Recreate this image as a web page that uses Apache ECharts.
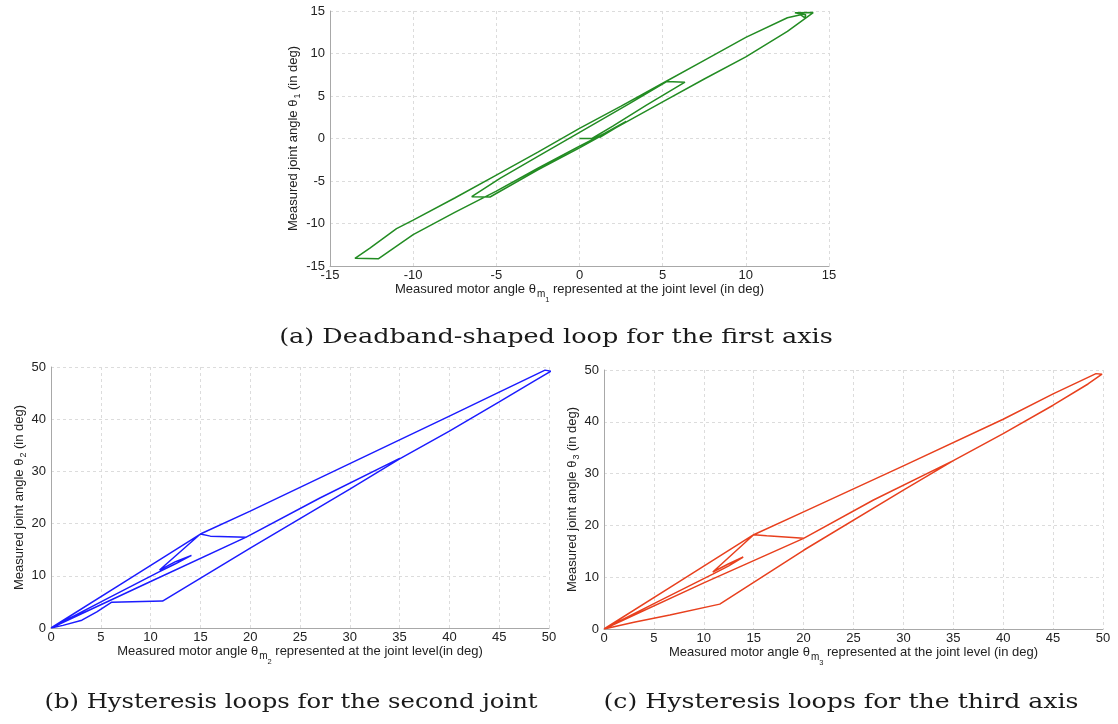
<!DOCTYPE html>
<html>
<head>
<meta charset="utf-8">
<script src="https://cdn.jsdelivr.net/npm/echarts@6/dist/echarts.min.js"></script>
<style>
html,body{margin:0;padding:0;background:#fff;}
#c{width:1118px;height:724px;}
</style>
</head>
<body>
<div id="c"></div>
<script>
// ---- data ----
// (a) first axis: motor angle vs joint angle (deg)
const loopA = [
  [0,0],[0.75,0],[2.0,1.45],[4.0,3.9],[6.34,6.62],[5.24,6.7],[3.0,4.1],[0.03,0.75],[-2.5,-2.1],
  [-4.78,-4.7],[-6.48,-6.85],[-5.38,-6.88],[-2.5,-3.7],[0,-1.1],[2.5,1.6],[5,4.3],[7.5,7.0],
  [10,9.6],[12.5,12.6],[14.05,14.82],[12.95,14.8],[13.6,14.55],[13.55,14.2],[13.3,14.55],
  [12.5,14.2],[10,11.9],[7.5,9.2],[5,6.5],[2.5,3.8],[0,1.2],[-2.5,-1.6],[-5,-4.3],[-7.5,-7.0],
  [-10,-9.6],[-11,-10.6],[-12.6,-12.9],[-13.5,-14.1],[-12.1,-14.15],[-10,-11.3],[-7.5,-8.7],
  [-5,-6.2],[-2.5,-3.5],[0,-0.9],[1.5,0.6],[2.8,2.0],[1.2,0.1]
];
// (b) second joint
const loopB = [
  [0,0],[1.2,0.5],[3.1,1.5],[4.6,3.1],[6.1,4.95],[11.2,5.15],[20,15.3],[30,26.6],[35,32.4],
  [40,37.7],[45,43.3],[48.5,47.3],[50.2,49.2],[49.6,49.4],[45,45.2],[40,40.6],[30,31.5],
  [20,22.4],[15,18.0],[7.5,9.0],[0,0],
  [10,8.9],[19.6,17.4],[27,24.9],[35,32.5],[27,24.9],[19.6,17.4],[16,17.6],[15,18.0],
  [10.9,11.1],[12.5,12.7],[14.1,13.9],[12.5,12.3],[10.8,10.7],[5.4,5.4],[0,0]
];
// (c) third axis
const loopC = [
  [0,0],[3,1.3],[6.6,2.7],[11.6,4.8],[20,15.2],[30,26.8],[35,32.5],[40,37.7],[45,43.2],
  [48.5,47.3],[49.9,49.2],[49.3,49.3],[45,45.4],[40,40.5],[30,31.5],[20,22.6],[15,18.2],
  [7.5,9.1],[0,0],
  [10,8.9],[20,17.5],[27,24.9],[35,32.5],[27,24.9],[20,17.5],[16.3,18.0],[15,18.2],
  [10.9,11.0],[12.5,12.6],[13.95,13.9],[12.5,12.2],[10.9,10.6],[5.4,5.3],[0,0]
];
const ticksA = {min:-15, max:15, interval:5};
const ticksBx = {min:0, max:50, interval:5};
const ticksBy = {min:0, max:50, interval:10};
const captions = [
  '(a) Deadband-shaped loop for the first axis',
  '(b) Hysteresis loops for the second joint',
  '(c) Hysteresis loops for the third axis'
];
const xNames = [
  ['Measured motor angle θ','m','1',' represented at the joint level (in deg)'],
  ['Measured motor angle θ','m','2',' represented at the joint level(in deg)'],
  ['Measured motor angle θ','m','3',' represented at the joint level (in deg)']
];
const yNames = [
  ['Measured joint angle θ','1',' (in deg)'],
  ['Measured joint angle θ','2',' (in deg)'],
  ['Measured joint angle θ','3',' (in deg)']
];
const colors = ['#238c23','#1c1cff','#e8401e'];

// ---- chart ----
const FONT = 'Liberation Sans, Arial, sans-serif';
const rich = {
  t:{fontSize:13, fontFamily:FONT, color:'#222', lineHeight:15, verticalAlign:'top'},
  m:{fontSize:10, fontFamily:FONT, color:'#222', lineHeight:11, padding:[6,0,0,1], verticalAlign:'top'},
  s:{fontSize:7.5, fontFamily:FONT, color:'#222', lineHeight:8, padding:[13,0,0,0], verticalAlign:'top'},
  y:{fontSize:9, fontFamily:FONT, color:'#222', lineHeight:10, padding:[6,0,0,1], verticalAlign:'top'}
};
function xName(p){ return '{t|'+p[0]+'}{m|'+p[1]+'}{s|'+p[2]+'}{t|'+p[3]+'}'; }
function yName(p){ return '{t|'+p[0]+'}{y|'+p[1]+'}{t|'+p[2]+'}'; }

function axisCommon(){
  return {
    type:'value',
    axisLine:{show:true, onZero:false, lineStyle:{color:'#a8a8a8', width:1}},
    axisTick:{show:false},
    splitLine:{show:true, lineStyle:{color:'#dcdcdc', type:[3,3], width:1}},
    axisLabel:{color:'#222', fontSize:13, fontFamily:FONT},
    nameLocation:'middle',
    nameTextStyle:{rich:rich}
  };
}
const grids = [
  {left:330, top:11, width:499, height:255},
  {left:51, top:367, width:498, height:261},
  {left:604, top:370, width:499, height:259}
];
const xAxes = [], yAxes = [];
const xt = [ticksA, ticksBx, ticksBx], yt = [ticksA, ticksBy, ticksBy];
for (let i=0;i<3;i++){
  const xa = axisCommon();
  Object.assign(xa, xt[i], {gridIndex:i, name:xName(xNames[i]), nameGap:14});
  xa.axisLabel = Object.assign({}, xa.axisLabel, {margin:3});
  xAxes.push(xa);
  const ya = axisCommon();
  Object.assign(ya, yt[i], {gridIndex:i, name:yName(yNames[i]), nameGap:[17,22,20][i]});
  ya.axisLabel = Object.assign({}, ya.axisLabel, {margin:5});
  yAxes.push(ya);
}
const loops = [loopA, loopB, loopC];
const series = loops.map((d,i)=>({
  type:'line', xAxisIndex:i, yAxisIndex:i, data:d, showSymbol:false, symbol:'none',
  lineStyle:{color:colors[i], width:1.5}, silent:true, animation:false
}));
const capPos = [[556,338],[291,703],[841,703]];
const capScale = [1.215,1.158,1.2];
const graphic = captions.map((t,i)=>({
  type:'text', x:capPos[i][0], y:capPos[i][1], scaleX:capScale[i],
  style:{text:t, font:'21px "DejaVu Serif", serif', fill:'#1a1a1a', textAlign:'center', textVerticalAlign:'middle'}
}));

const chart = echarts.init(document.getElementById('c'), null, {renderer:'canvas'});
chart.setOption({
  animation:false,
  backgroundColor:'#fff',
  grid:grids, xAxis:xAxes, yAxis:yAxes, series:series, graphic:graphic
});
</script>
</body>
</html>
